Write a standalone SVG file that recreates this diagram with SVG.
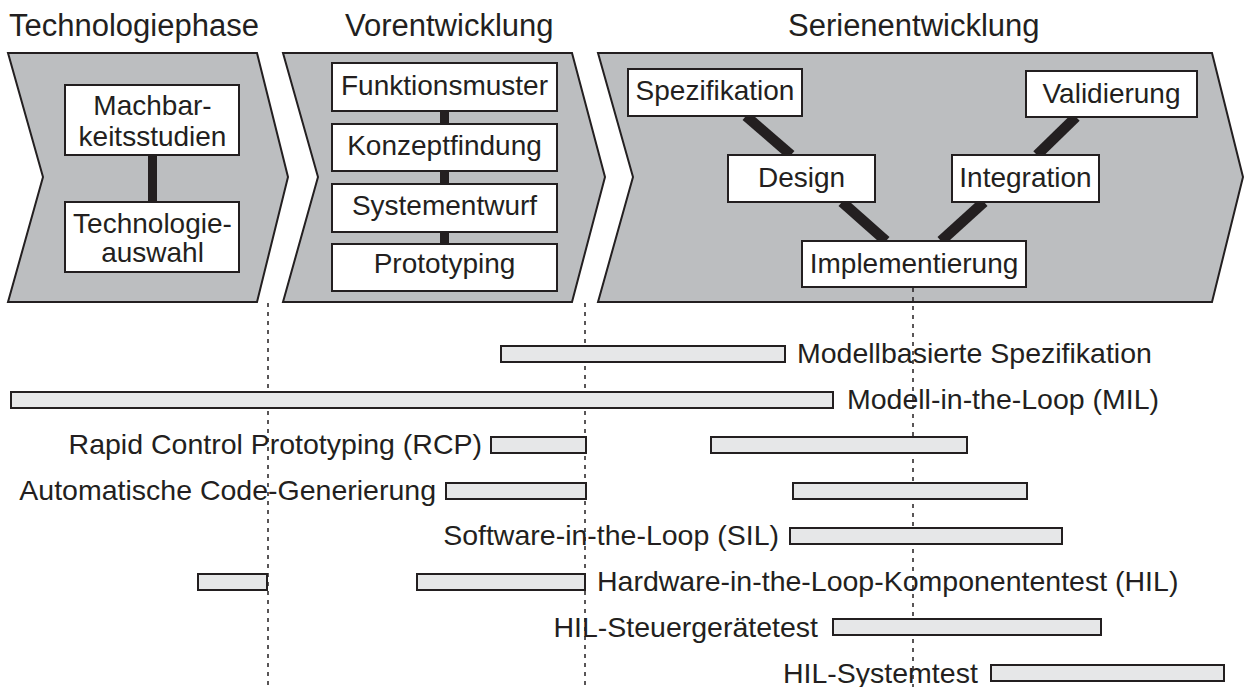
<svg xmlns="http://www.w3.org/2000/svg" width="1246" height="687" viewBox="0 0 1246 687">
  <style>
    text { font-family: "Liberation Sans", Arial, Helvetica, sans-serif; fill: #231f20; }
    .title { font-size: 31px; }
    .lbl { font-size: 28px; }
    .row { font-size: 28.5px; }
    .mid { text-anchor: middle; }
    .end { text-anchor: end; }
    .chev { fill: #bcbec0; stroke: #231f20; stroke-width: 2; stroke-linejoin: miter; }
    .box { fill: #ffffff; stroke: #231f20; stroke-width: 2; }
    .link { stroke: #231f20; stroke-width: 9; stroke-linecap: butt; fill: none; }
    .diag { stroke-width: 10.5; }
    .bar { fill: #e6e7e8; stroke: #231f20; stroke-width: 2; }
    .mark { stroke: #231f20; stroke-width: 1.5; stroke-dasharray: 4 5; fill: none; }
  </style>

  <!-- phase headings -->
  <g id="headings">
    <text class="title" x="9" y="36">Technologiephase</text>
    <text class="title" x="345" y="36">Vorentwicklung</text>
    <text class="title" x="788" y="36">Serienentwicklung</text>
  </g>

  <!-- phase arrows -->
  <g id="phase-technologie">
    <polygon class="chev" points="8,53 257,53 288,177 257,302 8,302 43,177"/>
  </g>
  <g id="phase-vorentwicklung">
    <polygon class="chev" points="283,53 572,53 605,177 572,302 283,302 318,177"/>
  </g>
  <g id="phase-serie">
    <polygon class="chev" points="598,53 1212,53 1243,177 1212,302 598,302 633,177"/>
  </g>

  <!-- links between the steps -->
  <g id="connectors">
    <line class="link" x1="152.5" y1="155" x2="152.5" y2="202"/>
    <line class="link" x1="444.5" y1="111" x2="444.5" y2="124"/>
    <line class="link" x1="444.5" y1="171" x2="444.5" y2="184"/>
    <line class="link" x1="444.5" y1="232" x2="444.5" y2="244"/>
    <line class="link diag" x1="746" y1="116" x2="791" y2="155"/>
    <line class="link diag" x1="842" y1="202" x2="886" y2="241"/>
    <line class="link diag" x1="941" y1="241" x2="984" y2="202"/>
    <line class="link diag" x1="1037" y1="155" x2="1076" y2="117"/>
  </g>

  <!-- Technologiephase steps -->
  <g id="machbarkeit">
    <rect class="box" x="65" y="85" width="174" height="70"/>
    <text class="lbl mid" x="152.5" y="115">Machbar-</text>
    <text class="lbl mid" x="152.5" y="146">keitsstudien</text>
  </g>
  <g id="technologieauswahl">
    <rect class="box" x="65" y="202" width="174" height="70"/>
    <text class="lbl mid" x="152.5" y="233">Technologie-</text>
    <text class="lbl mid" x="152.5" y="262">auswahl</text>
  </g>

  <!-- Vorentwicklung steps -->
  <g id="funktionsmuster">
    <rect class="box" x="332" y="63" width="225" height="48"/>
    <text class="lbl mid" x="444.5" y="95">Funktionsmuster</text>
  </g>
  <g id="konzeptfindung">
    <rect class="box" x="332" y="124" width="225" height="47"/>
    <text class="lbl mid" x="444.5" y="155">Konzeptfindung</text>
  </g>
  <g id="systementwurf">
    <rect class="box" x="332" y="184" width="225" height="48"/>
    <text class="lbl mid" x="444.5" y="215">Systementwurf</text>
  </g>
  <g id="prototyping">
    <rect class="box" x="332" y="244" width="225" height="47"/>
    <text class="lbl mid" x="444.5" y="273">Prototyping</text>
  </g>

  <!-- Serienentwicklung V-model steps -->
  <g id="spezifikation">
    <rect class="box" x="628" y="69" width="174" height="47"/>
    <text class="lbl mid" x="715" y="100">Spezifikation</text>
  </g>
  <g id="design">
    <rect class="box" x="728" y="155" width="147" height="47"/>
    <text class="lbl mid" x="801.5" y="187">Design</text>
  </g>
  <g id="implementierung">
    <rect class="box" x="802" y="241" width="224" height="46"/>
    <text class="lbl mid" x="914" y="273">Implementierung</text>
  </g>
  <g id="integration">
    <rect class="box" x="952" y="155" width="147" height="47"/>
    <text class="lbl mid" x="1025.5" y="187">Integration</text>
  </g>
  <g id="validierung">
    <rect class="box" x="1026" y="71" width="171" height="46"/>
    <text class="lbl mid" x="1111.5" y="103">Validierung</text>
  </g>

  <!-- phase boundaries -->
  <g id="boundaries">
    <line class="mark" x1="268" y1="303" x2="268" y2="687"/>
    <line class="mark" x1="585" y1="303" x2="585" y2="687"/>
    <line class="mark" x1="913" y1="288" x2="913" y2="687"/>
  </g>

  <!-- method time bars -->
  <g id="bar-modellbasiert">
    <rect class="bar" x="501" y="346" width="284" height="16"/>
    <text class="row" x="797" y="363">Modellbasierte Spezifikation</text>
  </g>
  <g id="bar-mil">
    <rect class="bar" x="11" y="392" width="822" height="16"/>
    <text class="row" x="847" y="409">Modell-in-the-Loop (MIL)</text>
  </g>
  <g id="bar-rcp">
    <rect class="bar" x="491" y="437" width="95" height="16"/>
    <rect class="bar" x="711" y="437" width="256" height="16"/>
    <text class="row end" x="482" y="454">Rapid Control Prototyping (RCP)</text>
  </g>
  <g id="bar-codegen">
    <rect class="bar" x="446" y="483" width="140" height="16"/>
    <rect class="bar" x="793" y="483" width="234" height="16"/>
    <text class="row end" x="436" y="500">Automatische Code-Generierung</text>
  </g>
  <g id="bar-sil">
    <rect class="bar" x="790" y="528" width="272" height="16"/>
    <text class="row end" x="779" y="545">Software-in-the-Loop (SIL)</text>
  </g>
  <g id="bar-hil-komponente">
    <rect class="bar" x="198" y="574" width="69" height="16"/>
    <rect class="bar" x="417" y="574" width="168" height="16"/>
    <text class="row" x="597" y="591">Hardware-in-the-Loop-Komponententest (HIL)</text>
  </g>
  <g id="bar-hil-steuergeraet">
    <rect class="bar" x="833" y="619" width="268" height="16"/>
    <text class="row end" x="818" y="637">HIL-Steuergerätetest</text>
  </g>
  <g id="bar-hil-system">
    <rect class="bar" x="991" y="665" width="233" height="16"/>
    <text class="row" x="783" y="683">HIL-Systemtest</text>
  </g>
</svg>
